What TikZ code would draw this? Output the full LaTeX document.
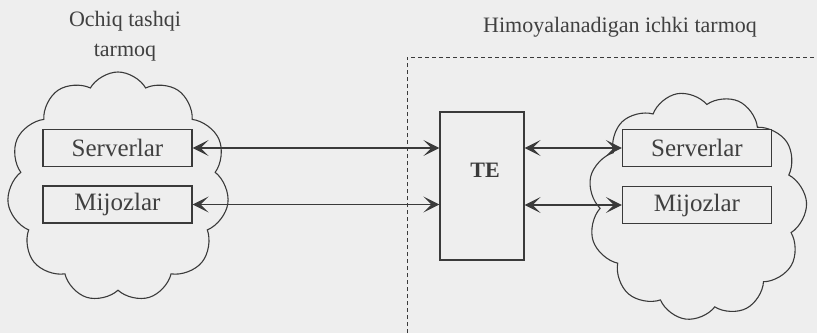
\documentclass[tikz,border=0pt]{standalone}
\usepackage{fontspec}
\setmainfont{Liberation Serif}
\usetikzlibrary{shapes.symbols,arrows.meta}
\definecolor{ink}{HTML}{3A3A3A}
\definecolor{txt}{HTML}{404040}
\definecolor{bg}{HTML}{EEEEEE}
\tikzset{
  cloudy/.style={cloud, cloud puffs=11, cloud puff arc=120, aspect=1, draw=ink, line width=1.1pt, inner sep=0pt},
  srvbox/.style={draw=ink, line width=1.1pt, minimum width=149pt, minimum height=37pt, inner sep=0pt, font=\fontsize{25}{28}\selectfont, text=txt},
  tebox/.style={draw=ink, line width=1.1pt, minimum width=84pt, minimum height=148pt, inner sep=0pt},
  title/.style={font=\fontsize{22}{30}\selectfont, text=txt, align=center},
  link/.style={draw=ink, line width=1.3pt, >={Stealth[length=16pt,width=16pt,inset=8pt]}, <->},
  border/.style={ink, line width=1pt, dash pattern=on 4pt off 3pt}
}
\begin{document}
\begin{tikzpicture}[x=1pt,y=-1pt]
\fill[bg] (0,0) rectangle (817,333);
\useasboundingbox (0,0) rectangle (817,333);
% titles
\node[title] (lt) at (125,36) {Ochiq tashqi\\tarmoq};
\node[title] (rt) at (620,27) {Himoyalanadigan ichki tarmoq};
% border
\coordinate (b1) at (407,333);
\coordinate (b2) at (407,57);
\coordinate (b3) at (817,57);
\draw[border] (b1) -- (b2) -- (b3);
% clouds
\node[cloudy, minimum width=222pt, minimum height=230pt] (lc) at (118,187) {};
\node[cloudy, minimum width=219pt, minimum height=228pt, rotate=10] (rc) at (697,206) {};
% boxes
\node[srvbox] (ls) at (117.5,148) {Serverlar};
\node[srvbox] (lm) at (117.5,204.5) {Mijozlar};
\node[srvbox, fill=bg] (rs) at (697,148) {Serverlar};
\node[srvbox, fill=bg] (rm) at (697,205) {Mijozlar};
\node[tebox] (te) at (482,186) {};
\node[font=\bfseries\fontsize{22}{24}\selectfont, text=ink] (tel) at (485,170) {TE};
% links
\draw[link] (ls.east) -- (ls.east -| te.west);
\draw[link] (lm.east) -- (lm.east -| te.west);
\draw[link] (rs.west -| te.east) -- (rs.west);
\draw[link] (rm.west -| te.east) -- (rm.west);
\end{tikzpicture}
\end{document}
